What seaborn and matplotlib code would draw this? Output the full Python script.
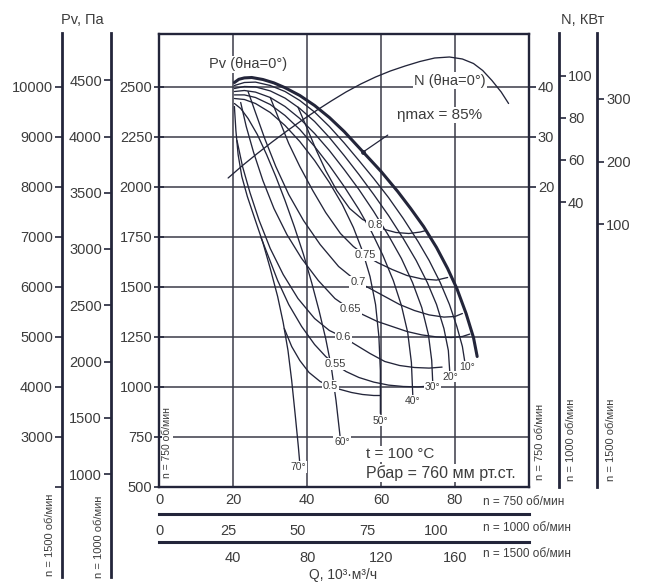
import matplotlib
matplotlib.use("Agg")
import matplotlib.pyplot as plt
import seaborn as sns

# ---------------- data (n = 750 rpm: Q in 10^3 m3/h, Pv in Pa, N in kW) ----------------
env_q = [20.3, 21.5, 23, 25, 28, 31, 34, 38, 42, 46, 50, 55, 60, 64.5, 68, 71.5, 75, 78, 80.5, 83, 85, 86]
env_p = [2520, 2536, 2543, 2545, 2535, 2518, 2494, 2455, 2405, 2345, 2275, 2175, 2075, 1975, 1890, 1800, 1695, 1590, 1490, 1365, 1245, 1150]

b10_q = [20.3, 23, 26, 30, 34, 38, 42, 46, 50, 54, 58, 62, 66, 70, 73, 76, 78.5, 80.5, 82, 82.7]
b10_p = [2505, 2520, 2522, 2505, 2475, 2430, 2372, 2300, 2218, 2130, 2040, 1945, 1840, 1725, 1630, 1520, 1410, 1300, 1200, 1118]
b20_q = [20.3, 23, 26, 30, 34, 38, 42, 46, 50, 54, 58, 62, 66, 69.5, 72.5, 75, 77, 78.2, 78.6]
b20_p = [2490, 2500, 2498, 2478, 2442, 2390, 2325, 2245, 2155, 2060, 1960, 1855, 1740, 1630, 1520, 1410, 1290, 1180, 1068]
b30_q = [20.3, 23, 26, 30, 34, 38, 42, 46, 50, 54, 58, 62, 65.5, 68.5, 71, 72.8, 73.7, 74]
b30_p = [2475, 2480, 2472, 2445, 2400, 2340, 2265, 2180, 2085, 1985, 1875, 1755, 1640, 1520, 1395, 1260, 1130, 1010]
b40_q = [20.3, 23, 26, 30, 34, 38, 42, 46, 50, 54, 57.5, 60.5, 63.3, 65.5, 67.2, 68.2, 68.6]
b40_p = [2458, 2458, 2445, 2410, 2355, 2285, 2200, 2105, 2000, 1885, 1770, 1655, 1530, 1405, 1270, 1120, 945]
b50_q = [20.3, 23, 26, 30, 34, 38, 42, 46, 49.5, 52.5, 55, 57, 58.5, 59.4, 59.8, 59.8]
b50_p = [2440, 2435, 2415, 2370, 2305, 2225, 2130, 2020, 1910, 1795, 1675, 1550, 1410, 1250, 1080, 865]
b60_q = [20.3, 22, 24, 26.5, 29, 31.5, 34, 36.5, 39, 41.2, 43.2, 45, 46.5, 47.8, 48.9]
b60_p = [2415, 2390, 2340, 2260, 2160, 2050, 1930, 1800, 1660, 1520, 1380, 1240, 1100, 930, 750]
b70_q = [20.3, 20.7, 21.3, 22.3, 23.8, 25.8, 28, 30, 32, 33.5, 34.8, 35.8, 36.8, 37.6, 38]
b70_p = [2400, 2280, 2160, 2050, 1950, 1840, 1720, 1590, 1450, 1320, 1180, 1030, 850, 700, 615]

blade_names = ["10°", "20°", "30°", "40°", "50°", "60°", "70°"]
blade_lab_q = [83.4, 78.8, 74.0, 68.4, 59.7, 49.4, 37.5]
blade_lab_p = [1098, 1050, 1000, 930, 830, 722, 597]

e80_q = [37.5, 40, 42.5, 45, 48, 51.5, 55, 58.3, 61, 64, 67.5, 70.5, 72.2]
e80_p = [2397, 2290, 2180, 2080, 1980, 1890, 1835, 1807, 1785, 1770, 1765, 1772, 1780]
e75_q = [30, 32.5, 35, 38, 41.5, 45, 49, 52.5, 55.6, 59, 63, 67, 71, 75, 78]
e75_p = [2445, 2330, 2215, 2100, 1980, 1870, 1765, 1700, 1657, 1620, 1585, 1555, 1538, 1532, 1545]
e70_q = [24, 26, 28.5, 31.5, 35, 39, 43.5, 48.5, 53.7, 57, 61, 65, 69, 73, 77, 80, 82]
e70_p = [2475, 2370, 2240, 2100, 1960, 1830, 1710, 1600, 1522, 1490, 1450, 1410, 1380, 1358, 1347, 1350, 1365]
e65_q = [22, 23.5, 25.5, 28, 31, 34.5, 38.5, 43, 47.5, 51.6, 55, 59, 63, 67, 71, 75, 79, 82, 84]
e65_p = [2420, 2300, 2170, 2030, 1890, 1760, 1640, 1530, 1440, 1387, 1360, 1325, 1300, 1275, 1258, 1248, 1245, 1250, 1262]
e60_q = [21, 22.5, 24.5, 27, 30, 33.5, 37.5, 42, 46, 49.7, 53, 57, 61, 65, 69, 73, 76.5]
e60_p = [2230, 2100, 1970, 1830, 1690, 1560, 1440, 1340, 1280, 1247, 1210, 1165, 1125, 1105, 1095, 1092, 1097]
e55_q = [27.5, 29.5, 32, 35, 38.5, 42, 45, 47.5, 50.5, 54, 58, 62, 66, 70, 73]
e55_p = [1745, 1650, 1530, 1410, 1300, 1210, 1150, 1112, 1075, 1045, 1022, 1007, 1000, 998, 1002]
e50_q = [33.8, 35.8, 38, 40.5, 43.5, 46.2, 49, 52, 55, 58, 59.8]
e50_p = [1290, 1200, 1130, 1070, 1025, 1002, 985, 970, 960, 955, 955]

eff_names = ["0.8", "0.75", "0.7", "0.65", "0.6", "0.55", "0.5"]
eff_lab_q = [58.3, 55.6, 53.7, 51.6, 49.7, 47.5, 46.2]
eff_lab_p = [1807, 1657, 1522, 1387, 1247, 1112, 1002]

n_q = [18.6, 22.5, 26.5, 30.5, 34.5, 38.5, 42.5, 46.5, 50.5, 54.5, 58.5, 62.5, 66.5, 70.5, 74.5, 78.5, 82, 85, 87.5, 90, 92.5, 94.5]
n_kw = [21.7, 24.2, 26.6, 28.9, 31.1, 33.2, 35.2, 37.1, 38.9, 40.5, 41.9, 43.1, 44.1, 45.0, 45.7, 45.9, 45.5, 44.6, 43.2, 41.2, 38.9, 36.6]

eta_max_q = [61.8, 55.1]
eta_max_p = [2257, 2172]

# axis scales
pv750_ticks = [500, 750, 1000, 1250, 1500, 1750, 2000, 2250, 2500]
pv1000_ticks = [1000, 1500, 2000, 2500, 3000, 3500, 4000, 4500]
pv1500_ticks = [2000, 3000, 4000, 5000, 6000, 7000, 8000, 9000, 10000]
n750_ticks = [20, 30, 40]
n1000_ticks = [40, 60, 80, 100]
n1500_ticks = [100, 200, 300]
q750_ticks = [0, 20, 40, 60, 80]
q1000_ticks = [0, 25, 50, 75, 100, 125]
q1500_ticks = [40, 80, 120, 160]

# ---------------- style ----------------
sns.set_theme(style="white")
plt.rcParams['font.family'] = ['Liberation Sans', 'DejaVu Sans']
INK = '#23253a'
GRID = '#3a3b48'
TXT = '#3c3c3c'

W, H = 646, 585
fig = plt.figure(figsize=(W / 100, H / 100), dpi=100, facecolor='white')

X0 = 159.4
PXQ = 3.695
Y2500 = 86.5
PXP = 0.2
TOP, BOT = 33.5, 486.5
QMAX = 100
RIGHT = X0 + QMAX * PXQ


def peq(py):
    return 2500 - (py - Y2500) / PXP


ax = fig.add_axes([X0 / W, 1 - BOT / H, (RIGHT - X0) / W, (BOT - TOP) / H])
ax.set_xlim(0, QMAX)
ax.set_ylim(peq(BOT), peq(TOP))
ax.set_facecolor('white')
ax.set_xticks(q750_ticks)
ax.set_xticklabels([str(v) for v in q750_ticks])
ax.set_yticks(pv750_ticks)
ax.set_yticklabels([str(v) for v in pv750_ticks])
ax.grid(True, color=GRID, lw=1.1, zorder=0)
ax.set_axisbelow(True)
ax.tick_params(axis='both', direction='inout', length=7, width=1.2, color=INK,
               labelcolor=TXT, labelsize=10.5, pad=1.5)
for s in ax.spines.values():
    s.set_visible(True)
    s.set_color(INK)
    s.set_linewidth(1.7)

# blade curves
blades = [(b10_q, b10_p), (b20_q, b20_p), (b30_q, b30_p), (b40_q, b40_p),
          (b50_q, b50_p), (b60_q, b60_p), (b70_q, b70_p)]
for q, p in blades:
    sns.lineplot(x=q, y=p, ax=ax, sort=False, estimator=None, color=INK, lw=0.95, zorder=3)

effs = [(e80_q, e80_p), (e75_q, e75_p), (e70_q, e70_p), (e65_q, e65_p),
        (e60_q, e60_p), (e55_q, e55_p), (e50_q, e50_p)]
for q, p in effs:
    sns.lineplot(x=q, y=p, ax=ax, sort=False, estimator=None, color=INK, lw=0.95, zorder=3)

sns.lineplot(x=env_q, y=env_p, ax=ax, sort=False, estimator=None, color=INK, lw=2.2, zorder=4)
sns.lineplot(x=eta_max_q, y=eta_max_p, ax=ax, sort=False, estimator=None, color=INK, lw=0.9, zorder=4)
ax.scatter([eta_max_q[-1]], [eta_max_p[-1]], s=6, color=INK, zorder=5)

lbl_box = dict(facecolor='white', edgecolor='none', pad=0.6)
for name, q, p in zip(eff_names, eff_lab_q, eff_lab_p):
    ax.text(q, p, name, fontsize=8, color=TXT, ha='center', va='center', bbox=lbl_box, zorder=6)
for name, q, p in zip(blade_names, blade_lab_q, blade_lab_p):
    ax.text(q, p, name, fontsize=7.5, color=TXT, ha='center', va='center', bbox=lbl_box, zorder=6)

big_box = dict(facecolor='white', edgecolor='none', pad=1.0)
ax.text(24, 2612, "Pv (θна=0°)", fontsize=10.5, color=TXT, ha='center', va='center', bbox=big_box, zorder=6)
ax.text(78.6, 2530, "N (θна=0°)", fontsize=10.5, color=TXT, ha='center', va='center', bbox=big_box, zorder=6)
ax.text(75.9, 2357, "ηmax = 85%", fontsize=11, color=TXT, ha='center', va='center', bbox=big_box, zorder=6)
ax.text(55.9, 662, "t = 100 °C", fontsize=11, color=TXT, ha='left', va='center', bbox=big_box, zorder=6)
ax.text(55.9, 567, "Рбар = 760 мм рт.ст.", fontsize=11.5, color=TXT, ha='left', va='center', bbox=big_box, zorder=6)
ax.text(2.1, 720, "n = 750 об/мин", fontsize=7.5, color=TXT, rotation=90, ha='center', va='center',
        bbox=dict(facecolor='white', edgecolor='none', pad=0.3), zorder=6)

# N axis (750 rpm) on the right of the frame
ax2 = ax.twinx()
ax2.set_ylim((peq(BOT) - 1500) / 25, (peq(TOP) - 1500) / 25)
ax2.set_yticks(n750_ticks)
ax2.set_yticklabels([str(v) for v in n750_ticks])
ax2.tick_params(axis='y', direction='out', length=5, width=1.2, color=INK,
                labelcolor=TXT, labelsize=10.5, pad=1.5)
for s in ax2.spines.values():
    s.set_visible(False)
ax2.grid(False)
sns.lineplot(x=n_q, y=n_kw, ax=ax2, sort=False, estimator=None, color=INK, lw=0.95)


def vaxis(xpx, ytop, ybot, side):
    a = fig.add_axes([xpx / W, 1 - ybot / H, 1e-4, (ybot - ytop) / H])
    a.patch.set_visible(False)
    for s in a.spines.values():
        s.set_visible(False)
    a.spines[side].set_visible(True)
    a.spines[side].set_linewidth(2.0)
    a.spines[side].set_color(INK)
    a.set_xticks([])
    if side == 'right':
        a.yaxis.tick_right()
    else:
        a.yaxis.tick_left()
    a.tick_params(axis='y', direction='out', length=5, width=1.2, color=INK,
                  labelcolor=TXT, labelsize=10.5, pad=1.5)
    a.grid(False)
    return a


def haxis(ypx):
    a = fig.add_axes([X0 / W, 1 - ypx / H, (RIGHT - X0) / W, 1e-4])
    a.patch.set_visible(False)
    for s in a.spines.values():
        s.set_visible(False)
    a.spines['bottom'].set_visible(True)
    a.spines['bottom'].set_linewidth(2.2)
    a.spines['bottom'].set_color(INK)
    a.set_yticks([])
    a.tick_params(axis='x', direction='out', length=5, width=1.2, color=INK,
                  labelcolor=TXT, labelsize=10.5, pad=2)
    a.grid(False)
    return a


# left Pv axes (1500 rpm and 1000 rpm)
LTOP, LBOT = 33, 577
a15 = vaxis(62, LTOP, LBOT, 'left')
a15.set_ylim(4 * peq(LBOT), 4 * peq(LTOP))
a15.set_yticks(pv1500_ticks)
a15.set_yticklabels([''] + [str(v) for v in pv1500_ticks[1:]])

a10 = vaxis(111, LTOP, LBOT, 'left')
a10.set_ylim(16 / 9 * peq(LBOT), 16 / 9 * peq(LTOP))
a10.set_yticks(pv1000_ticks)
a10.set_yticklabels([str(v) for v in pv1000_ticks])

# right N axes (1000 rpm and 1500 rpm)
RTOP, RBOT = 33, 487
n10 = vaxis(559, RTOP, RBOT, 'right')
n10.set_ylim(64 / 27 * (peq(RBOT) - 1500) / 25, 64 / 27 * (peq(RTOP) - 1500) / 25)
n10.set_yticks(n1000_ticks)
n10.set_yticklabels([str(v) for v in n1000_ticks])

n15 = vaxis(597, RTOP, RBOT, 'right')
n15.set_ylim(8 * (peq(RBOT) - 1500) / 25, 8 * (peq(RTOP) - 1500) / 25)
n15.set_yticks(n1500_ticks)
n15.set_yticklabels([str(v) for v in n1500_ticks])

# bottom Q axes (1000 rpm and 1500 rpm)
q10 = haxis(514)
q10.set_xlim(0, QMAX * 4 / 3)
q10.set_xticks(q1000_ticks)
q10.set_xticklabels([str(v) for v in q1000_ticks[:-1]] + [''])

q15 = haxis(541.7)
q15.set_xlim(0, QMAX * 2)
q15.set_xticks(q1500_ticks)
q15.set_xticklabels([str(v) for v in q1500_ticks])


def ftext(xp, yp, s, **kw):
    fig.text(xp / W, 1 - yp / H, s, color=TXT, **kw)


ftext(82, 20, "Pv, Па", fontsize=10.5, ha='center', va='center')
ftext(583, 20, "N, КВт", fontsize=10.5, ha='center', va='center')
ftext(343, 575, "Q, 10³·м³/ч", fontsize=10, ha='center', va='center')
ftext(483, 502, "n = 750 об/мин", fontsize=8.5, ha='left', va='center')
ftext(483, 528, "n = 1000 об/мин", fontsize=8.5, ha='left', va='center')
ftext(483, 554, "n = 1500 об/мин", fontsize=8.5, ha='left', va='center')
ftext(50, 535, "n = 1500 об/мин", fontsize=8, ha='center', va='center', rotation=90)
ftext(99, 537, "n = 1000 об/мин", fontsize=8, ha='center', va='center', rotation=90)
ftext(540, 442, "n = 750 об/мин", fontsize=8, ha='center', va='center', rotation=90)
ftext(571, 440, "n = 1000 об/мин", fontsize=8, ha='center', va='center', rotation=90)
ftext(611, 440, "n = 1500 об/мин", fontsize=8, ha='center', va='center', rotation=90)

fig.savefig("out.png", dpi=100, facecolor='white')
